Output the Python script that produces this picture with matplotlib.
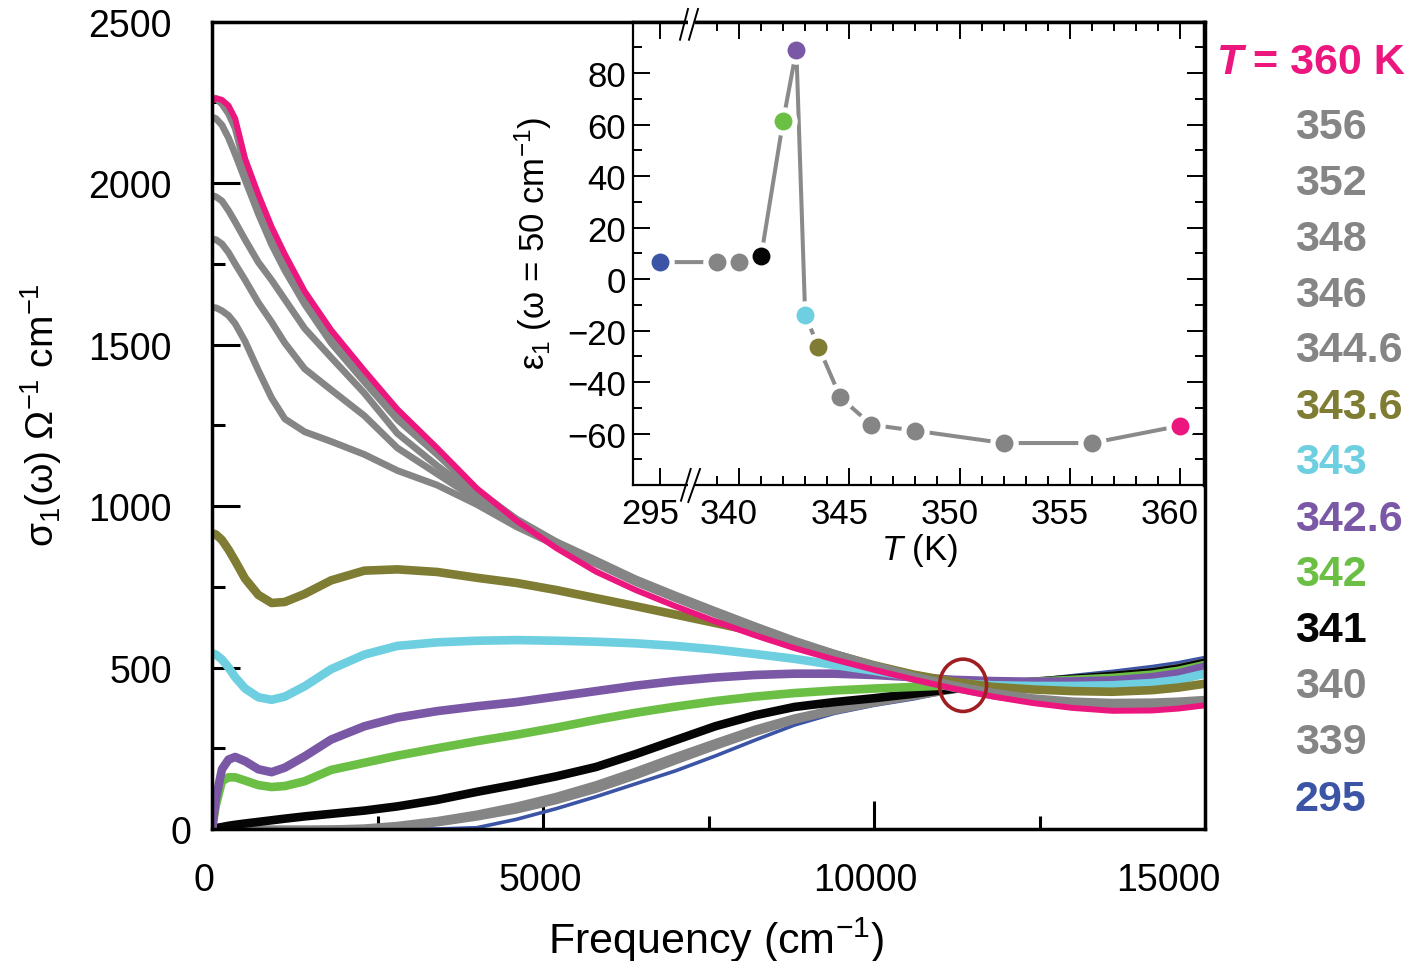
import matplotlib
matplotlib.use("Agg")
import matplotlib.pyplot as plt
from matplotlib.patches import Ellipse, Rectangle
from matplotlib.transforms import ScaledTranslation
from matplotlib.ticker import FixedLocator
from matplotlib.lines import Line2D

plt.rcParams['font.family'] = ['Liberation Sans', 'DejaVu Sans']
plt.rcParams['mathtext.fontset'] = 'custom'
plt.rcParams['mathtext.rm'] = 'Liberation Sans'
plt.rcParams['mathtext.it'] = 'Liberation Sans:italic'
plt.rcParams['mathtext.bf'] = 'Liberation Sans:bold'

# ---------------- data: main panel (sigma_1 vs frequency, cm-1) ----------------
freq = [0, 60, 150, 250, 350, 500, 700, 900, 1100, 1400, 1800, 2300, 2800, 3400,
        4000, 4600, 5200, 5800, 6400, 7000, 7600, 8200, 8800, 9400, 10000, 10600,
        11200, 11800, 12400, 13000, 13600, 14200, 14600, 15000]

s_360 = [2255, 2263, 2258, 2240, 2200, 2076, 1965, 1865, 1780, 1665, 1545, 1420, 1300, 1180,
         1055, 955, 870, 797, 740, 690, 643, 600, 560, 525, 493, 463, 435, 410, 390, 375, 366, 367, 373, 383]
s_356 = [2265, 2262, 2245, 2215, 2170, 2050, 1940, 1840, 1755, 1645, 1525, 1402, 1285, 1170,
         1050, 960, 890, 833, 775, 725, 677, 630, 585, 545, 508, 475, 447, 424, 407, 397, 393, 394, 397, 402]
s_352 = [2205, 2200, 2180, 2140, 2090, 2010, 1905, 1810, 1730, 1625, 1505, 1385, 1268, 1160,
         1045, 956, 887, 830, 772, 722, 674, 627, 582, 542, 505, 472, 444, 421, 404, 394, 390, 391, 394, 399]
s_348 = [1962, 1958, 1945, 1915, 1880, 1825, 1755, 1700, 1640, 1550, 1460, 1350, 1225, 1125,
         1035, 950, 884, 827, 769, 719, 671, 624, 579, 539, 502, 469, 441, 418, 401, 391, 387, 388, 391, 396]
s_346 = [1827, 1825, 1812, 1785, 1750, 1700, 1630, 1570, 1505, 1425, 1360, 1280, 1180, 1100,
         1020, 944, 881, 824, 766, 716, 668, 621, 576, 536, 499, 466, 438, 415, 398, 388, 384, 385, 388, 393]
s_3446 = [1615, 1614, 1605, 1590, 1565, 1510, 1420, 1335, 1270, 1230, 1200, 1160, 1110, 1065,
          1005, 936, 878, 821, 763, 713, 665, 618, 573, 533, 496, 463, 435, 412, 395, 385, 381, 382, 385, 390]
s_3436 = [916, 912, 895, 865, 830, 775, 725, 700, 703, 728, 770, 800, 804, 796,
          778, 762, 740, 715, 690, 664, 638, 612, 578, 541, 507, 478, 456, 440, 432, 427, 425, 430, 438, 450]
s_343 = [544, 540, 525, 500, 470, 435, 408, 400, 410, 442, 495, 540, 567, 578,
         583, 585, 583, 580, 575, 567, 556, 542, 527, 508, 490, 470, 452, 445, 443, 443, 445, 452, 462, 481]
s_3426 = [0, 95, 185, 215, 223, 210, 185, 176, 190, 225, 277, 318, 345, 365,
          380, 393, 410, 427, 444, 458, 469, 477, 481, 481, 477, 470, 462, 458, 456, 457, 460, 470, 482, 503]
s_342 = [0, 75, 148, 160, 160, 150, 136, 130, 133, 148, 183, 205, 227, 250,
         272, 292, 314, 338, 360, 379, 396, 410, 421, 429, 435, 440, 445, 450, 456, 462, 468, 478, 490, 508]
s_341 = [0, 3, 6, 10, 13, 17, 22, 27, 32, 39, 47, 57, 70, 90,
         115, 138, 163, 192, 232, 275, 318, 352, 378, 393, 405, 419, 434, 446, 456, 465, 474, 485, 497, 515]
s_340 = [0, 0, 0, 0, 0, 0, 0, 0, 0, 0, 1, 4, 12, 27,
         47, 72, 102, 138, 180, 225, 268, 310, 345, 372, 393, 412, 432, 446, 457, 466, 475, 487, 499, 516]
s_339 = [0, 0, 0, 0, 0, 0, 0, 0, 0, 0, 0, 2, 7, 18,
         36, 58, 87, 122, 164, 210, 255, 298, 336, 365, 389, 410, 430, 445, 457, 467, 477, 489, 501, 519]
s_295 = [0, 0, 0, 0, 0, 0, 0, 0, 0, 0, 0, 0, 0, 0,
         4, 30, 63, 100, 140, 180, 226, 275, 322, 358, 383, 403, 428, 447, 461, 475, 488, 503, 515, 531]

# isosbestic-point marker (data coordinates)
circle_freq, circle_sigma = 11345, 445
circle_w, circle_h = 710, 162

# ---------------- data: inset (eps_1 at 50 cm-1 vs T) ----------------
T_inset = [295, 339, 340, 341, 342, 342.6, 343, 343.6, 344.6, 346, 348, 352, 356, 360]
eps1 = [6.6, 6.6, 6.5, 8.8, 61.5, 89.0, -14.1, -26.2, -46.0, -56.6, -58.9, -63.7, -63.7, -57.0]

inset_xticks = [295, 340, 345, 350, 355, 360]
main_xticks = [0, 5000, 10000, 15000]
main_yticks = [0, 500, 1000, 1500, 2000, 2500]

# ---------------- styles ----------------
PINK = "#ec167f"
GRAY = "#858585"
OLIVE = "#7f7d33"
CYAN = "#6dcfe0"
PURPLE = "#7b58a6"
GREEN = "#6cbf45"
BLACK = "#050505"
BLUE = "#3b54a5"
DARKRED = "#a01e22"

temp_colors = {295: BLUE, 339: GRAY, 340: GRAY, 341: BLACK, 342: GREEN, 342.6: PURPLE,
               343: CYAN, 343.6: OLIVE, 344.6: GRAY, 346: GRAY, 348: GRAY, 352: GRAY,
               356: GRAY, 360: PINK}

W, H = 1411, 962
fig = plt.figure(figsize=(W / 100, H / 100), dpi=100)


def fx(px):
    return px / W


def fy(py):
    return 1 - py / H


AX_L, AX_R, AX_T, AX_B = 212, 1205, 22.7, 830
ax = fig.add_axes([fx(AX_L), fy(AX_B), fx(AX_R) - fx(AX_L), fy(AX_T) - fy(AX_B)])

LW_C, LW_G = 6.2, 4.9
series = [
    (s_295, BLUE, 2.6),
    (s_339, GRAY, LW_G),
    (s_340, GRAY, LW_G),
    (s_341, BLACK, LW_C),
    (s_342, GREEN, LW_C),
    (s_3426, PURPLE, LW_C),
    (s_343, CYAN, LW_C),
    (s_3436, OLIVE, LW_C),
    (s_3446, GRAY, LW_G),
    (s_346, GRAY, LW_G),
    (s_348, GRAY, LW_G),
    (s_352, GRAY, LW_G),
    (s_356, GRAY, LW_G),
    (s_360, PINK, 4.3),
]
for ys, c, lw in series:
    ax.plot(freq, ys, color=c, lw=lw, solid_capstyle='round', solid_joinstyle='round')

ax.add_patch(Ellipse((circle_freq, circle_sigma), circle_w, circle_h, fill=False,
                     edgecolor=DARKRED, lw=2.6, zorder=5))

ax.set_xlim(0, 15000)
ax.set_ylim(0, 2500)
ax.xaxis.set_major_locator(FixedLocator(main_xticks))
ax.xaxis.set_minor_locator(FixedLocator([2500, 7500, 12500]))
ax.yaxis.set_major_locator(FixedLocator(main_yticks))
ax.yaxis.set_minor_locator(FixedLocator([250, 750, 1250, 1750, 2250]))
ax.set_xticklabels([str(v) for v in main_xticks])
ax.set_yticklabels([str(v) for v in main_yticks])
ax.tick_params(which='both', direction='in', top=False, right=False, width=2.2,
               labelsize=27, color='black')
ax.tick_params(axis='x', which='major', length=20, pad=24)
ax.tick_params(axis='y', which='major', length=20, pad=29)
ax.tick_params(which='minor', length=9.5)
for sp in ax.spines.values():
    sp.set_linewidth(2.5)

fig.text(fx(716), fy(940), "Frequency (cm$^{-1}$)", fontsize=31, ha='center', va='center')
fig.text(fx(41), fy(415), "σ$_1$(ω) Ω$^{-1}$ cm$^{-1}$", fontsize=28, ha='center',
         va='center', rotation=90)

# ---------------- inset ----------------
IN_L, IN_R, IN_T, IN_B = 633, 1204, 22.7, 486
axi = fig.add_axes([fx(IN_L), fy(IN_B), fx(IN_R) - fx(IN_L), fy(IN_T) - fy(IN_B)])
axi.set_facecolor('white')

BREAK_POS = 336.42  # display position of the 295 K point on the broken axis


def tpos(t):
    return BREAK_POS if t == 295 else t


xs = [tpos(t) for t in T_inset]
axi.plot(xs, eps1, color="#8a8a8a", lw=2.9, zorder=2)
axi.plot(xs, eps1, 'o', ms=19.5, color='white', mec='white', zorder=3)
for t, x, e in zip(T_inset, xs, eps1):
    axi.plot([x], [e], 'o', ms=12.9, color=temp_colors[t], mec='none', zorder=4)

axi.set_xlim(335.19, 361.09)
axi.set_ylim(-80, 100)
axi.xaxis.set_major_locator(FixedLocator([tpos(t) for t in inset_xticks]))
axi.set_xticklabels([str(t) for t in inset_xticks])
minor_x = [v for v in range(339, 361) if v % 5 != 0]
axi.xaxis.set_minor_locator(FixedLocator(minor_x))
axi.yaxis.set_major_locator(FixedLocator(list(range(-60, 81, 20))))
axi.yaxis.set_minor_locator(FixedLocator(list(range(-70, 100, 20))))
axi.tick_params(which='both', direction='in', top=True, right=True, width=1.4,
                labelsize=25, color='black')
axi.tick_params(which='major', length=12)
axi.tick_params(which='minor', length=6.5)
axi.tick_params(axis='x', which='major', pad=9)
axi.tick_params(axis='y', which='major', pad=5)
for side, sp in axi.spines.items():
    sp.set_linewidth(1.6)
axi.spines['top'].set_linewidth(2.5)
axi.spines['right'].set_linewidth(2.5)


# broken-axis marks
def px2ax(px, py):
    return (px - IN_L) / (IN_R - IN_L), (IN_B - py) / (IN_B - IN_T)


for gy0 in (IN_B, IN_T):
    x0, y0 = px2ax(687.5, gy0 + 3)
    x1, y1 = px2ax(694.5, gy0 - 3)
    axi.add_patch(Rectangle((x0, y0), x1 - x0, y1 - y0, transform=axi.transAxes,
                            facecolor='white', edgecolor='none', clip_on=False, zorder=10))
for (p0, p1) in [((681, 501.7), (690.7, 470)), ((688.3, 503), (700, 470)),
                 ((680, 40.7), (688, 10)), ((689, 40.7), (698, 10))]:
    a0 = px2ax(*p0)
    a1 = px2ax(*p1)
    axi.add_line(Line2D([a0[0], a1[0]], [a0[1], a1[1]], transform=axi.transAxes,
                        color='black', lw=1.4, clip_on=False, zorder=11))

fig.text(fx(533), fy(243), "ε$_1$ (ω = 50 cm$^{-1}$)", fontsize=25, ha='center',
         va='center', rotation=90)
fig.text(fx(920), fy(551), "$\\mathit{T}$ (K)", fontsize=25, ha='center', va='center')

# ---------------- temperature labels ----------------
fig.text(fx(1217), fy(63), "T", fontsize=31, fontweight='bold', style='italic',
         color=PINK, ha='left', va='center')
fig.text(fx(1253), fy(63), "= 360 K", fontsize=31, fontweight='bold', color=PINK,
         ha='left', va='center')
label_temps = [356, 352, 348, 346, 344.6, 343.6, 343, 342.6, 342, 341, 340, 339, 295]
label_y = [128, 184, 240, 296, 351, 408, 463, 520, 575, 631, 687, 743, 800]
for t, yy in zip(label_temps, label_y):
    fig.text(fx(1295), fy(yy), str(t), fontsize=31, fontweight='bold',
             color=temp_colors[t], ha='left', va='center')

# ---------------- tick-label nudges (as in the original typesetting) ----------------
fig.canvas.draw()
xoff = {0: -8, 5000: -3, 10000: -9, 15000: -37}
for tk in ax.xaxis.get_major_ticks():
    v = tk.get_loc()
    if v in xoff:
        lab = tk.label1
        lab.set_transform(lab.get_transform() + ScaledTranslation(xoff[v] / 100, 0, fig.dpi_scale_trans))
for tk in ax.yaxis.get_major_ticks():
    if tk.get_loc() == 0:
        lab = tk.label1
        lab.set_transform(lab.get_transform() + ScaledTranslation(20 / 100, 0, fig.dpi_scale_trans))
for tk in axi.xaxis.get_major_ticks():
    lab = tk.label1
    lab.set_transform(lab.get_transform() + ScaledTranslation(-10 / 100, 0, fig.dpi_scale_trans))

fig.savefig("out.png", dpi=100)
